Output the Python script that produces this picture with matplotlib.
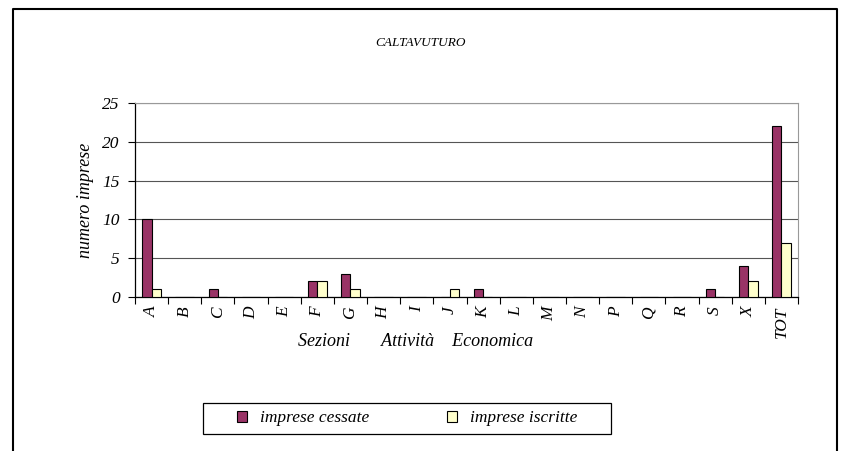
import numpy as np
import matplotlib.pyplot as plt
from matplotlib.lines import Line2D
from matplotlib.patches import Rectangle

# data
sezioni = ['A', 'B', 'C', 'D', 'E', 'F', 'G', 'H', 'I', 'J', 'K', 'L',
           'M', 'N', 'P', 'Q', 'R', 'S', 'X', 'TOT']
cessate = [10, 0, 1, 0, 0, 2, 3, 0, 0, 0, 1, 0, 0, 0, 0, 0, 0, 1, 4, 22]
iscritte = [1, 0, 0, 0, 0, 2, 1, 0, 0, 1, 0, 0, 0, 0, 0, 0, 0, 0, 2, 7]

col_cess = '#993366'
col_iscr = '#FFFFCC'
serif = 'Liberation Serif'

W, H = 841, 451
fig = plt.figure(figsize=(W / 100, H / 100), dpi=100)
ax = fig.add_axes([135 / W, 1 - 297 / H, (798 - 135) / W, (297 - 103) / H])

x = np.arange(len(sezioni))
bw = 0.28
ax.bar(x - bw / 2, cessate, bw, color=col_cess, edgecolor='black', lw=0.8,
       label='imprese cessate', zorder=3)
ax.bar(x + bw / 2, iscritte, bw, color=col_iscr, edgecolor='black', lw=0.8,
       label='imprese iscritte', zorder=3)

ax.set_xlim(-0.5, len(sezioni) - 0.5)
ax.set_ylim(0, 25)
ax.set_yticks([0, 5, 10, 15, 20, 25])
ax.yaxis.grid(True, color='#555555', lw=0.8, zorder=0)

# ticks between categories, labels centred under each
ax.set_xticks(np.arange(-0.5, len(sezioni), 1.0))
ax.set_xticklabels([])
ax.set_xticks(x, minor=True)
ax.set_xticklabels(sezioni, minor=True, rotation=90, fontstyle='italic',
                   family=serif, fontsize=12.5)
ax.tick_params(axis='x', which='major', direction='out', length=5, width=0.8)
ax.tick_params(axis='x', which='minor', length=0, pad=7)
ax.tick_params(axis='y', direction='out', length=5, width=0.8, pad=6)
for lab in ax.get_yticklabels():
    lab.set_family(serif)
    lab.set_fontstyle('italic')
    lab.set_fontsize(12.5)

for s in ['top', 'right']:
    ax.spines[s].set_color('#999999')
    ax.spines[s].set_linewidth(0.8)
ax.spines['left'].set_linewidth(0.9)
ax.spines['bottom'].set_linewidth(0.9)

ax.set_ylabel('numero imprese', family=serif, fontstyle='italic',
              fontsize=13, labelpad=6)
fig.text(416 / W, 1 - 342 / H, 'Sezioni       Attività    Economica',
         family=serif, fontstyle='italic', fontsize=13,
         ha='center', va='center')
fig.text(421 / W, 1 - 43 / H, 'CALTAVUTURO', family=serif,
         fontstyle='italic', fontsize=9.5, ha='center', va='center')

# legend box drawn separately, legend entries centred inside
fig.add_artist(Rectangle((203 / W, 1 - 434 / H), 408 / W, 31 / H,
                         transform=fig.transFigure, fill=False,
                         edgecolor='black', lw=0.9))
leg = fig.legend(loc='center', bbox_to_anchor=(407 / W, 1 - 418.5 / H),
                 ncol=2, frameon=False, handlelength=0.6, handleheight=0.6,
                 handletextpad=0.7, columnspacing=4.5, borderaxespad=0,
                 prop={'family': serif, 'style': 'italic', 'size': 12.5})

# outer frame of the chart object (bottom is cut off)
fig.add_artist(Line2D([12.5 / W, 12.5 / W, 837 / W, 837 / W],
                      [0, 1 - 8.7 / H, 1 - 8.7 / H, 0],
                      transform=fig.transFigure, color='black', lw=1.5))

fig.savefig('out.png', dpi=100)
